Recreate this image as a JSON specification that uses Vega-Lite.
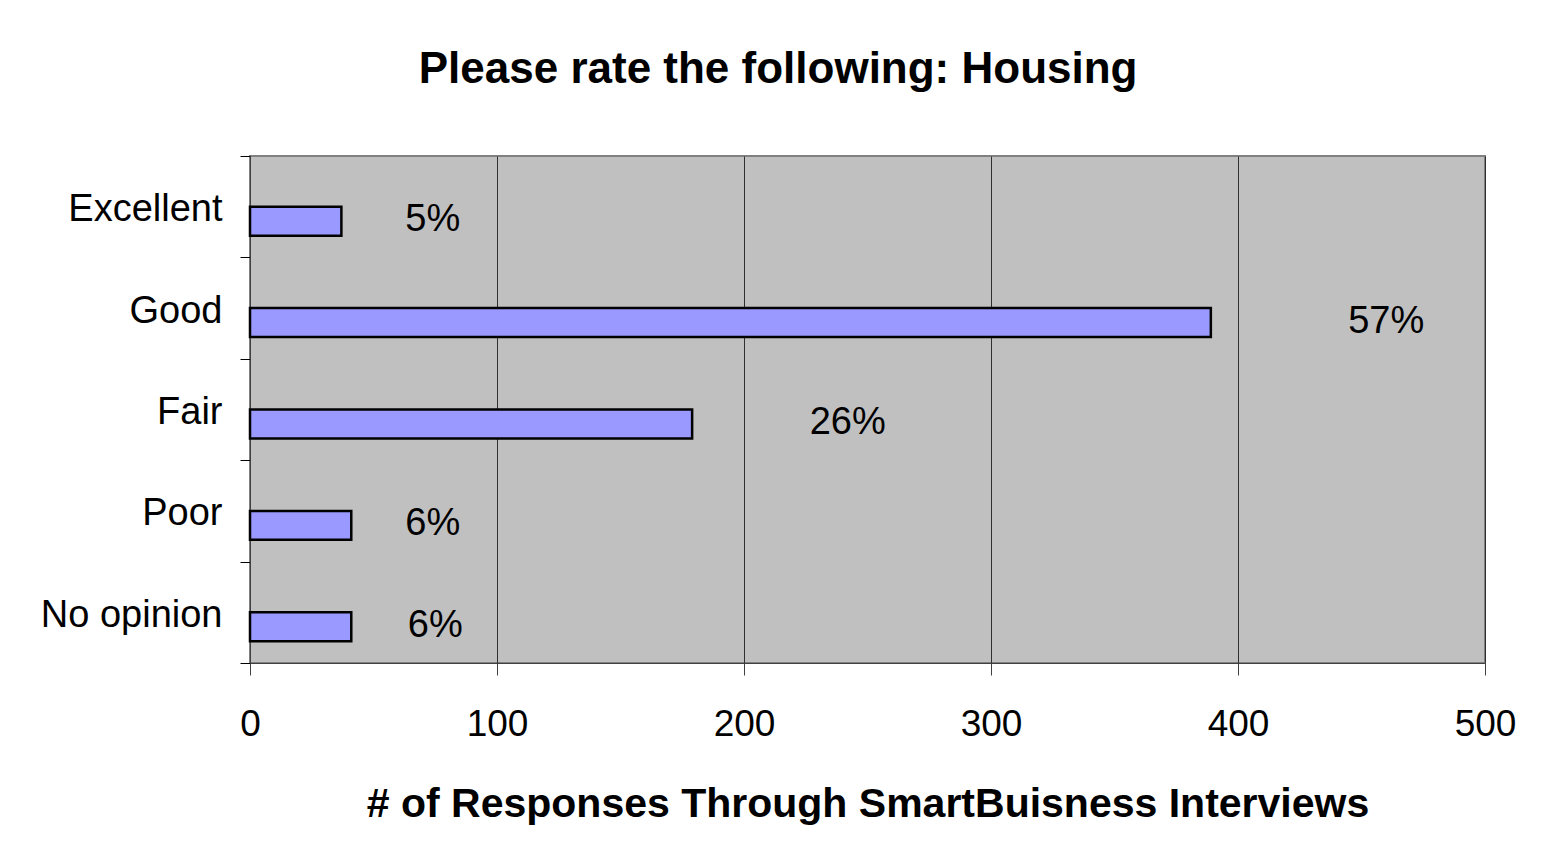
{
  "$schema": "https://vega.github.io/schema/vega-lite/v6.json",
  "width": 1235,
  "height": 507,
  "autosize": "none",
  "padding": {"left": 250, "top": 156, "right": 66, "bottom": 198},
  "background": "white",
  "title": {
    "text": "Please rate the following: Housing",
    "font": "Liberation Sans",
    "fontSize": 44,
    "fontWeight": "bold",
    "color": "black",
    "anchor": "middle",
    "frame": "bounds",
    "baseline": "alphabetic",
    "offset": 10
  },
  "config": {
    "view": {"fill": "#C0C0C0", "stroke": "#808080", "strokeWidth": 2},
    "axis": {"labelFont": "Liberation Sans", "titleFont": "Liberation Sans", "labelColor": "black", "titleColor": "black"}
  },
  "data": {
    "values": [
      {"rating": "Excellent", "count": 37, "pct": "5%", "labelAt": 74, "series": "count"},
      {"rating": "Good", "count": 389, "pct": "57%", "labelAt": 460, "series": "count"},
      {"rating": "Fair", "count": 179, "pct": "26%", "labelAt": 242, "series": "count"},
      {"rating": "Poor", "count": 41, "pct": "6%", "labelAt": 74, "series": "count"},
      {"rating": "No opinion", "count": 41, "pct": "6%", "labelAt": 75, "series": "count"}
    ]
  },
  "encoding": {
    "y": {
      "field": "rating",
      "type": "nominal",
      "sort": null,
      "scale": {"paddingInner": 0, "paddingOuter": 0},
      "axis": {
        "title": null,
        "tickBand": "extent",
        "labelFontSize": 38,
        "labelPadding": 18,
        "labelLimit": 400,
        "labelOffset": 3,
        "tickSize": 10,
        "tickColor": "black",
        "tickWidth": 1,
        "domain": true,
        "domainColor": "#404040",
        "domainWidth": 1,
        "grid": false
      }
    },
    "yOffset": {
      "field": "series",
      "type": "nominal",
      "scale": {"domain": ["blank", "count"], "paddingInner": 0, "paddingOuter": 0.75}
    }
  },
  "layer": [
    {
      "mark": {"type": "bar", "color": "#9999FF", "stroke": "black", "strokeWidth": 2.5},
      "encoding": {
        "x": {
          "field": "count",
          "type": "quantitative",
          "scale": {"domain": [0, 500], "nice": false},
          "axis": {
            "title": "# of Responses Through SmartBuisness Interviews",
            "titleFontSize": 41,
            "titleFontWeight": "bold",
            "titlePadding": 42,
            "values": [0, 100, 200, 300, 400, 500],
            "labelFontSize": 37,
            "labelPadding": 31,
            "tickSize": 12,
            "tickColor": "#404040",
            "tickWidth": 1,
            "domainColor": "#404040",
            "domainWidth": 1,
            "grid": true,
            "gridColor": "#303030",
            "gridWidth": 1,
            "labelFlush": false
          }
        }
      }
    },
    {
      "mark": {"type": "text", "font": "Liberation Sans", "fontSize": 38, "color": "black", "align": "center", "baseline": "middle", "dy": -1},
      "encoding": {
        "x": {"field": "labelAt", "type": "quantitative"},
        "text": {"field": "pct"}
      }
    }
  ]
}
